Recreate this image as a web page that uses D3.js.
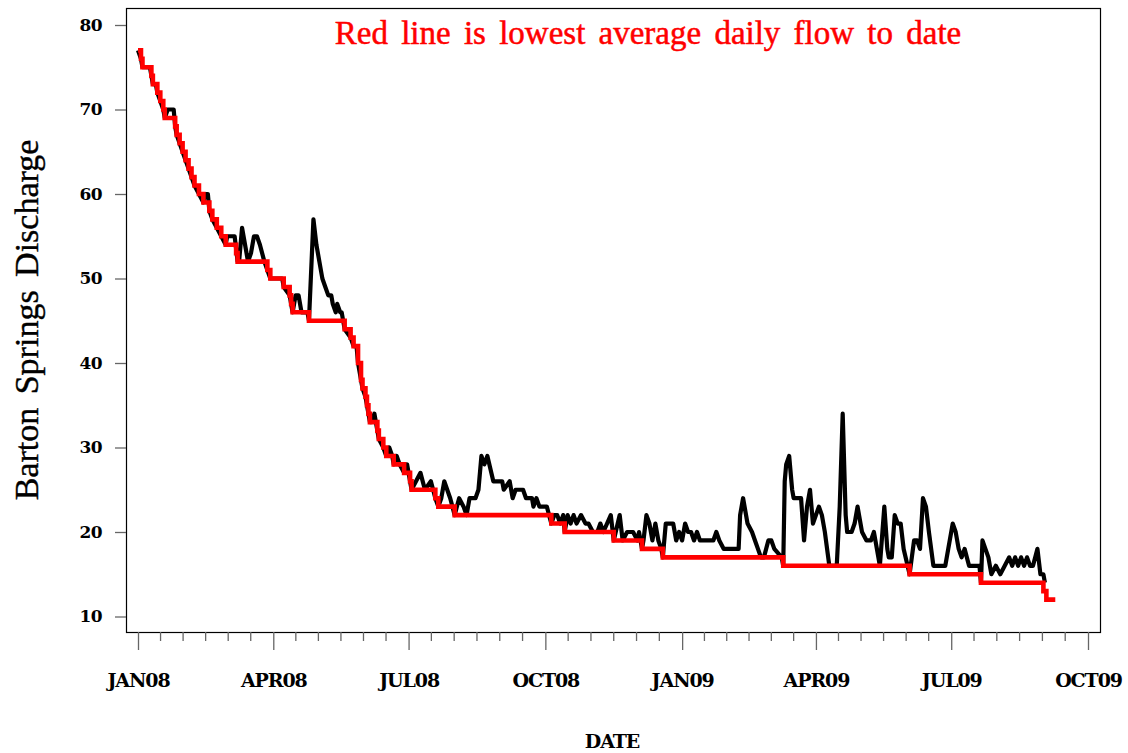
<!DOCTYPE html>
<html>
<head>
<meta charset="utf-8">
<script src="https://cdn.jsdelivr.net/npm/d3@7"></script>
<style>
  html, body { margin: 0; padding: 0; background: #fff; }
  svg { display: block; }
</style>
</head>
<body>
<svg id="chart" width="1128" height="753"></svg>
<script>
// ---- data ----
const flowDates = [
"2008-01-01","2008-01-03","2008-01-04","2008-01-09","2008-01-10","2008-01-11","2008-01-13","2008-01-14","2008-01-16","2008-01-18",
"2008-01-19","2008-01-21","2008-01-25","2008-01-26","2008-01-27","2008-01-29","2008-01-31","2008-02-02","2008-02-04","2008-02-06",
"2008-02-08","2008-02-11","2008-02-14","2008-02-15","2008-02-17","2008-02-18","2008-02-20","2008-02-23","2008-02-26","2008-02-29",
"2008-03-01","2008-03-06","2008-03-08","2008-03-09","2008-03-11","2008-03-13","2008-03-15","2008-03-17","2008-03-19","2008-03-21",
"2008-03-23","2008-03-26","2008-03-28","2008-03-30","2008-04-07","2008-04-08","2008-04-12","2008-04-13","2008-04-14","2008-04-16",
"2008-04-18","2008-04-20","2008-04-24","2008-04-25","2008-04-28","2008-04-30","2008-05-02","2008-05-04","2008-05-06","2008-05-08",
"2008-05-10","2008-05-11","2008-05-13","2008-05-14","2008-05-16","2008-05-17","2008-05-18","2008-05-19","2008-05-23","2008-05-25",
"2008-05-27","2008-05-28","2008-05-30","2008-05-31","2008-06-02","2008-06-03","2008-06-04","2008-06-05","2008-06-06","2008-06-08",
"2008-06-09","2008-06-11","2008-06-14","2008-06-16","2008-06-18","2008-06-20","2008-06-21","2008-06-23","2008-06-25","2008-06-28",
"2008-06-30","2008-07-02","2008-07-03","2008-07-06","2008-07-09","2008-07-12","2008-07-16","2008-07-19","2008-07-21","2008-07-23",
"2008-07-25","2008-07-29","2008-08-01","2008-08-04","2008-08-07","2008-08-09","2008-08-11","2008-08-15","2008-08-17","2008-08-19",
"2008-08-21","2008-08-23","2008-08-27","2008-09-02","2008-09-03","2008-09-07","2008-09-09","2008-09-11","2008-09-16","2008-09-18",
"2008-09-22","2008-09-23","2008-09-25","2008-09-27","2008-10-02","2008-10-05","2008-10-07","2008-10-09","2008-10-11","2008-10-13",
"2008-10-14","2008-10-16","2008-10-18","2008-10-20","2008-10-22","2008-10-25","2008-10-28","2008-10-30","2008-11-02","2008-11-05",
"2008-11-07","2008-11-09","2008-11-14","2008-11-16","2008-11-20","2008-11-22","2008-11-25","2008-11-29","2008-12-02","2008-12-03",
"2008-12-05","2008-12-06","2008-12-08","2008-12-10","2008-12-12","2008-12-14","2008-12-16","2008-12-18","2008-12-19","2008-12-21",
"2008-12-23","2008-12-26","2008-12-28","2008-12-30","2009-01-01","2009-01-03","2009-01-05","2009-01-07","2009-01-09","2009-01-11",
"2009-01-13","2009-01-18","2009-01-22","2009-01-24","2009-01-26","2009-01-29","2009-02-08","2009-02-09","2009-02-11","2009-02-14",
"2009-02-17","2009-02-19","2009-02-21","2009-02-23","2009-02-25","2009-02-28","2009-03-02","2009-03-04","2009-03-09","2009-03-10",
"2009-03-11","2009-03-12","2009-03-14","2009-03-16","2009-03-17","2009-03-22","2009-03-24","2009-03-26","2009-03-28","2009-03-30",
"2009-04-01","2009-04-03","2009-04-05","2009-04-07","2009-04-10","2009-04-15","2009-04-17","2009-04-19","2009-04-21","2009-04-22",
"2009-04-25","2009-04-27","2009-04-29","2009-05-01","2009-05-02","2009-05-05","2009-05-08","2009-05-10","2009-05-12","2009-05-14",
"2009-05-17","2009-05-19","2009-05-20","2009-05-22","2009-05-24","2009-05-26","2009-05-28","2009-05-30","2009-06-03","2009-06-06",
"2009-06-08","2009-06-10","2009-06-12","2009-06-14","2009-06-16","2009-06-19","2009-06-27","2009-06-29","2009-07-02","2009-07-04",
"2009-07-06","2009-07-08","2009-07-10","2009-07-13","2009-07-20","2009-07-21","2009-07-22","2009-07-24","2009-07-26","2009-07-28",
"2009-07-31","2009-08-03","2009-08-06","2009-08-09","2009-08-11","2009-08-13","2009-08-15","2009-08-17","2009-08-19","2009-08-21",
"2009-08-23","2009-08-25","2009-08-28","2009-08-30","2009-09-01","2009-09-02"
];
const flowValues = [
77,76,75,75,74,73,73,72,71,70,
69,70,70,68,67,66,65,64,63,62,
61,60,59,60,60,58,57,56,55,54,
55,55,52,52,56,54,52,53,55,55,
54,52,51,50,50,49,48,47,46,48,
48,46,46,45,57,54,52,50,49,48,
48,47,46,47,46,46,45,44,43,42,
42,40,38,37,36,35,34,33,33,34,
33,31,30,29,30,29,28,29,28,27,
28,26,25,26,27,25,26,24,23,24,
26,24,22,24,23,22,24,24,25,29,
28,29,26,26,25,26,24,25,25,24,
24,23,24,23,23,21,22,22,21,22,
20,22,21,22,21,22,21,21,20,20,
21,20,22,19,22,19,20,20,19,20,
18,19,22,21,19,21,19,18,17,21,
21,21,19,20,19,21,20,20,19,20,
19,19,19,20,19,18,18,22,24,21,
20,19,18,17,17,19,19,18,17,16,
26,28,29,25,24,24,19,23,25,21,
22,23,22,20,16,16,23,34,22,20,
20,21,23,21,20,19,19,20,18,16,
23,18,17,17,22,21,21,18,15,19,
19,18,24,23,20,16,16,18,21,20,
18,17,18,16,16,14,19,18,17,15,
16,15,16,17,16,17,16,17,16,17,
16,16,18,15,15,14
];

const lowDates = [
"2008-01-01","2008-01-03","2008-01-04","2008-01-10","2008-01-11","2008-01-14","2008-01-16","2008-01-18","2008-01-19","2008-01-26",
"2008-01-27","2008-01-29","2008-01-31","2008-02-02","2008-02-04","2008-02-06","2008-02-08","2008-02-11","2008-02-14","2008-02-18",
"2008-02-20","2008-02-23","2008-02-26","2008-02-29","2008-03-07","2008-03-08","2008-03-28","2008-03-30","2008-04-08","2008-04-12",
"2008-04-13","2008-04-14","2008-04-25","2008-05-19","2008-05-23","2008-05-25","2008-05-28","2008-05-30","2008-05-31","2008-06-02",
"2008-06-03","2008-06-04","2008-06-05","2008-06-10","2008-06-11","2008-06-14","2008-06-16","2008-06-21","2008-06-28","2008-07-02",
"2008-07-03","2008-07-19","2008-07-21","2008-08-01","2008-10-05","2008-10-14","2008-11-16","2008-12-05","2008-12-19","2009-03-10",
"2009-06-03","2009-07-21","2009-09-01","2009-09-03","2009-09-09"
];
const lowValues = [
77,76,75,74,73,72,71,70,69,68,
67,66,65,64,63,62,61,60,59,58,
57,56,55,54,53,52,51,50,49,48,
47,46,45,44,43,42,40,38,37,36,
35,34,33,32,31,30,29,28,27,26,
25,24,23,22,21,20,19,18,17,16,
15,14,13,12,12
];

const yTicks = [10, 20, 30, 40, 50, 60, 70, 80];
const xTickDates = ["2008-01-01","2008-04-01","2008-07-01","2008-10-01","2009-01-01","2009-04-01","2009-07-01","2009-10-01"];
const xTickLabels = ["JAN08","APR08","JUL08","OCT08","JAN09","APR09","JUL09","OCT09"];
const titleText = "Red line is lowest average daily flow to date";
const yTitle = "Barton Springs Discharge";
const xTitle = "DATE";

// ---- layout ----
const frame = { left: 126, right: 1100, top: 8, bottom: 632 };
const parse = d3.utcParse("%Y-%m-%d");
const svg = d3.select("#chart");

const x = d3.scaleUtc()
  .domain([parse(xTickDates[0]), parse(xTickDates[xTickDates.length - 1])])
  .range([138, 1088]);
const y = d3.scaleLinear().domain([10, 80]).range([616.5, 25]);

const boldSerif = "'DejaVu Serif', 'Liberation Serif', serif";
const textSerif = "'Liberation Serif', 'DejaVu Serif', serif";

// frame
svg.append("rect")
  .attr("x", frame.left + 0.5).attr("y", frame.top + 0.5)
  .attr("width", frame.right - frame.left).attr("height", frame.bottom - frame.top)
  .attr("fill", "none").attr("stroke", "#000").attr("stroke-width", 1.2);

// y axis
const yAxis = d3.axisLeft(y).tickValues(yTicks).tickSize(11).tickPadding(13).tickFormat(d3.format("d"));
const yg = svg.append("g").attr("transform", `translate(${frame.left},0)`).call(yAxis);
yg.select(".domain").remove();
yg.selectAll(".tick line").attr("stroke", "#666").attr("stroke-width", 1.3);
yg.selectAll(".tick text")
  .attr("font-family", boldSerif).attr("font-weight", "bold").attr("font-size", 17)
  .attr("fill", "#000").attr("letter-spacing", -0.6);

// x axis: major ticks
const majorDates = xTickDates.map(parse);
const xAxis = d3.axisBottom(x).tickValues(majorDates).tickSize(18).tickPadding(24)
  .tickFormat((d, i) => xTickLabels[i]);
const xg = svg.append("g").attr("transform", `translate(0,${frame.bottom})`).call(xAxis);
xg.select(".domain").remove();
xg.selectAll(".tick line").attr("stroke", "#666").attr("stroke-width", 1.3);
xg.selectAll(".tick text")
  .attr("font-family", boldSerif).attr("font-weight", "bold").attr("font-size", 19)
  .attr("fill", "#000").attr("letter-spacing", -1.1);

// minor ticks: 5 between each pair of majors
const minorPos = [];
for (let i = 0; i < majorDates.length - 1; i++) {
  const a = x(majorDates[i]), b = x(majorDates[i + 1]);
  for (let k = 1; k <= 5; k++) minorPos.push(a + (b - a) * k / 6);
}
svg.append("g").selectAll("line").data(minorPos).join("line")
  .attr("x1", d => d).attr("x2", d => d)
  .attr("y1", frame.bottom).attr("y2", frame.bottom + 9)
  .attr("stroke", "#666").attr("stroke-width", 1.3);

// lines
const flow = flowDates.map((d, i) => ({ date: parse(d), v: flowValues[i] }));
const low = lowDates.map((d, i) => ({ date: parse(d), v: lowValues[i] }));

svg.append("path").datum(flow)
  .attr("fill", "none").attr("stroke", "#000").attr("stroke-width", 4.2)
  .attr("stroke-linejoin", "round")
  .attr("d", d3.line().x(d => x(d.date)).y(d => y(d.v)));

svg.append("path").datum(low)
  .attr("fill", "none").attr("stroke", "#ff0000").attr("stroke-width", 4.6)
  .attr("d", d3.line().curve(d3.curveStepAfter).x(d => x(d.date)).y(d => y(d.v)));

// titles
svg.append("text")
  .attr("x", 648).attr("y", 44).attr("text-anchor", "middle")
  .attr("font-family", textSerif).attr("font-size", 33).attr("fill", "#ff0000")
  .attr("stroke", "#ff0000").attr("stroke-width", 0.5)
  .attr("word-spacing", 5)
  .text(titleText);

svg.append("text")
  .attr("transform", "translate(38,320) rotate(-90)")
  .attr("text-anchor", "middle")
  .attr("font-family", textSerif).attr("font-size", 34).attr("fill", "#000")
  .attr("stroke", "#000").attr("stroke-width", 0.4)
  .attr("word-spacing", 5)
  .text(yTitle);

svg.append("text")
  .attr("x", 612).attr("y", 748).attr("text-anchor", "middle")
  .attr("font-family", boldSerif).attr("font-weight", "bold").attr("font-size", 19)
  .attr("fill", "#000").attr("letter-spacing", -1.1)
  .text(xTitle);
</script>
</body>
</html>
